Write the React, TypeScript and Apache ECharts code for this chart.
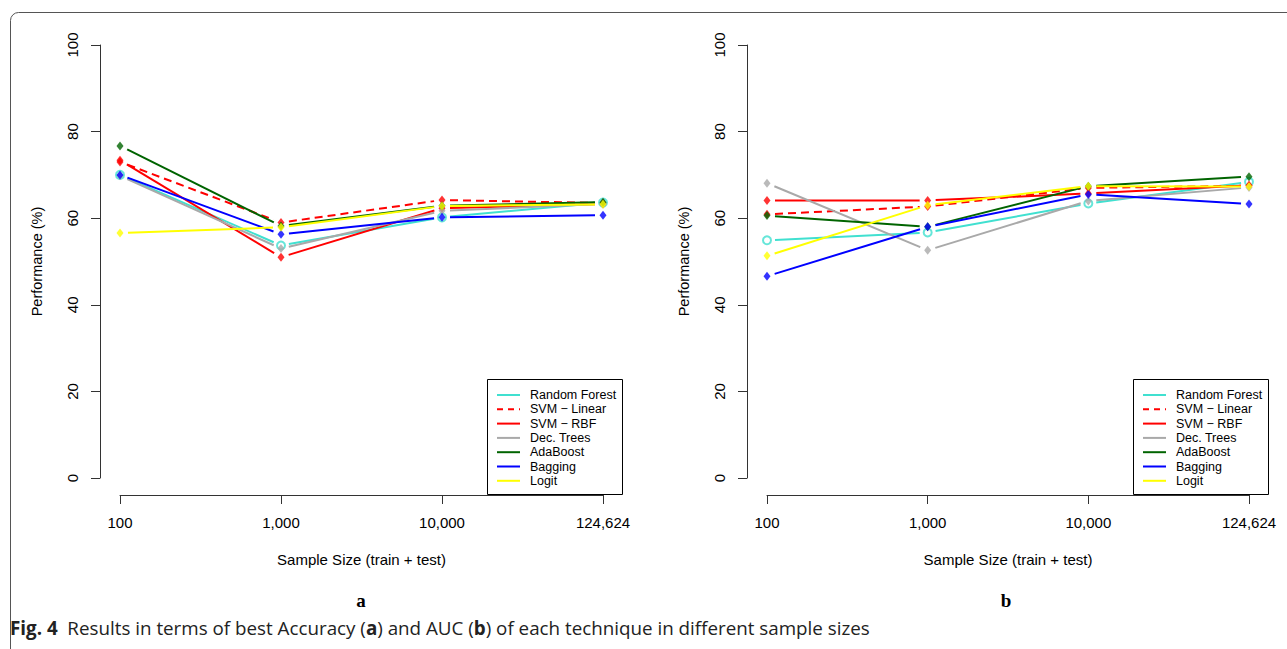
import React, { useEffect, useRef } from "react";
import * as echarts from "echarts";

const categories = ["100", "1,000", "10,000", "124,624"];
const techniques = [
  "Random Forest",
  "SVM \u2212 Linear",
  "SVM \u2212 RBF",
  "Dec. Trees",
  "AdaBoost",
  "Bagging",
  "Logit",
];
const colors = ["#40E0D0", "#FF0000", "#FF0000", "#A9A9A9", "#006400", "#0000FF", "#FFFF00"];
const dashed = [false, true, false, false, false, false, false];

// (a) best Accuracy
const accRandomForest = [70.0, 53.7, 60.2, 63.6];
const accSvmLinear = [73.0, 59.0, 64.2, 63.5];
const accSvmRbf = [73.4, 51.0, 62.3, 63.3];
const accDecTrees = [69.8, 53.0, 61.7, 63.3];
const accAdaBoost = [76.7, 58.2, 62.9, 63.7];
const accBagging = [70.0, 56.3, 60.2, 60.7];
const accLogit = [56.6, 57.9, 62.8, 63.2];

// (b) AUC
const aucRandomForest = [54.9, 56.7, 63.4, 68.4];
const aucSvmLinear = [60.9, 62.7, 67.0, 67.5];
const aucSvmRbf = [64.1, 64.1, 65.7, 67.6];
const aucDecTrees = [68.1, 52.6, 64.0, 67.1];
const aucAdaBoost = [60.6, 58.0, 67.4, 69.6];
const aucBagging = [46.6, 58.0, 65.5, 63.3];
const aucLogit = [51.3, 63.0, 67.4, 67.3];

const yTicks = { min: 0, max: 100, interval: 20 };

const panelA = [accRandomForest, accSvmLinear, accSvmRbf, accDecTrees, accAdaBoost, accBagging, accLogit];
const panelB = [aucRandomForest, aucSvmLinear, aucSvmRbf, aucDecTrees, aucAdaBoost, aucBagging, aucLogit];

const FONT = "'Liberation Sans', Arial, sans-serif";
const GAP = 8;

function makeRender(color: string, dash: boolean) {
  return (params: any, api: any) => {
    const i = api.value(0);
    const p0 = api.coord([i, api.value(1)]);
    const p1 = api.coord([i + 1, api.value(2)]);
    const dx = p1[0] - p0[0];
    const dy = p1[1] - p0[1];
    const L = Math.hypot(dx, dy);
    if (L < 2 * GAP + 1) return null;
    const ux = dx / L;
    const uy = dy / L;
    return {
      type: "line",
      shape: {
        x1: p0[0] + ux * GAP,
        y1: p0[1] + uy * GAP,
        x2: p1[0] - ux * GAP,
        y2: p1[1] - uy * GAP,
      },
      style: {
        stroke: color,
        lineWidth: 2,
        lineDash: dash ? [8, 5] : null,
        fill: null,
      },
    };
  };
}

function legendGraphics(x0: number) {
  const els: any[] = [];
  els.push({
    type: "rect",
    shape: { x: x0 + 0.5, y: 379.5, width: 135, height: 115 },
    style: { fill: "#fff", stroke: "#000", lineWidth: 1 },
    z: 100,
  });
  techniques.forEach((name, k) => {
    const y = 395 + k * 14.3;
    els.push({
      type: "line",
      shape: { x1: x0 + 10, y1: y, x2: x0 + 33, y2: y },
      style: { stroke: colors[k], lineWidth: 2, lineDash: dashed[k] ? [6, 5] : null },
      z: 101,
    });
    els.push({
      type: "text",
      x: x0 + 43,
      y: y,
      style: {
        text: name,
        fontFamily: FONT,
        fontSize: 12.5,
        fill: "#000",
        verticalAlign: "middle",
        align: "left",
      },
      z: 101,
    });
  });
  return els;
}

export default function App() {
  const ref = useRef<HTMLDivElement>(null);
  useEffect(() => {
    if (!ref.current) return;
    const chart = echarts.init(ref.current, null, { renderer: "svg" });
    const grids = [
      { left: 120, top: 45, width: 483, height: 433 },
      { left: 767, top: 45, width: 482, height: 433 },
    ];
    const axisLineStyle = { color: "#333", width: 1 };
    const xAxes = grids.map((_, g) => ({
      gridIndex: g,
      type: "value",
      min: 0,
      max: 3,
      interval: 1,
      offset: 17,
      axisLine: { show: true, onZero: false, lineStyle: axisLineStyle },
      axisTick: { show: true, length: 9, lineStyle: axisLineStyle },
      axisLabel: {
        formatter: (v: number) => categories[v] ?? "",
        margin: 20,
        fontSize: 15,
        color: "#000",
        fontFamily: FONT,
        showMinLabel: true,
        showMaxLabel: true,
      },
      splitLine: { show: false },
      name: "Sample Size (train + test)",
      nameLocation: "middle",
      nameGap: 57,
      nameTextStyle: { fontSize: 15, color: "#000", fontFamily: FONT },
    }));
    const yAxes = grids.map((_, g) => ({
      gridIndex: g,
      type: "value",
      min: yTicks.min,
      max: yTicks.max,
      interval: yTicks.interval,
      offset: 20,
      axisLine: { show: true, onZero: false, lineStyle: axisLineStyle },
      axisTick: { show: true, length: 9, lineStyle: axisLineStyle },
      axisLabel: {
        rotate: 90,
        margin: 20,
        fontSize: 15,
        color: "#000",
        fontFamily: FONT,
        showMinLabel: true,
        showMaxLabel: true,
      },
      splitLine: { show: false },
      name: "Performance (%)",
      nameLocation: "middle",
      nameGap: 56,
      nameRotate: 90,
      nameTextStyle: { fontSize: 14.5, color: "#000", fontFamily: FONT },
    }));

    const series: any[] = [];
    [panelA, panelB].forEach((panel, g) => {
      panel.forEach((vals, t) => {
        const segs = vals.slice(0, -1).map((v, i) => [i, v, vals[i + 1]]);
        series.push({
          type: "custom",
          xAxisIndex: g,
          yAxisIndex: g,
          renderItem: makeRender(colors[t], dashed[t]),
          data: segs,
          encode: { x: 0, y: [1, 2] },
          silent: true,
        });
        const isRF = t === 0;
        series.push({
          type: "scatter",
          xAxisIndex: g,
          yAxisIndex: g,
          data: vals.map((v, i) => [i, v]),
          symbol: isRF ? "circle" : "diamond",
          symbolSize: isRF ? 8 : [7, 9],
          itemStyle: isRF
            ? { color: "#fff", borderColor: colors[t], borderWidth: 2 }
            : { color: colors[t] },
          silent: true,
        });
      });
    });

    const graphic: any[] = [
      {
        type: "rect",
        shape: { x: 10.5, y: 12.5, width: 1400, height: 800, r: 8 },
        style: { fill: "none", stroke: "#555", lineWidth: 1 },
      },
      ...legendGraphics(487),
      ...legendGraphics(1133),
      {
        type: "text",
        x: 361,
        y: 600,
        style: {
          text: "a",
          fontFamily: "'Liberation Serif', 'DejaVu Serif', serif",
          fontWeight: "bold",
          fontSize: 19,
          fill: "#000",
          align: "center",
          verticalAlign: "middle",
        },
      },
      {
        type: "text",
        x: 1006,
        y: 600,
        style: {
          text: "b",
          fontFamily: "'Liberation Serif', 'DejaVu Serif', serif",
          fontWeight: "bold",
          fontSize: 19,
          fill: "#000",
          align: "center",
          verticalAlign: "middle",
        },
      },
      {
        type: "text",
        x: 10,
        y: 628,
        style: {
          text: "{b|Fig. 4}  Results in terms of best Accuracy ({b|a}) and AUC ({b|b}) of each technique in different sample sizes",
          fontFamily: "'Open Sans', sans-serif",
          fontSize: 18.8,
          fill: "#222",
          align: "left",
          verticalAlign: "middle",
          rich: {
            b: { fontWeight: "bold", fontFamily: "'Open Sans', sans-serif", fontSize: 18.8, fill: "#222" },
          },
        },
      },
    ];

    chart.setOption({
      animation: false,
      backgroundColor: "#fff",
      grid: grids,
      xAxis: xAxes,
      yAxis: yAxes,
      series,
      graphic,
    });
    return () => chart.dispose();
  }, []);
  return (
    <div
      ref={ref}
      style={{ position: "fixed", left: 0, top: 0, width: 1287, height: 649 }}
    />
  );
}
